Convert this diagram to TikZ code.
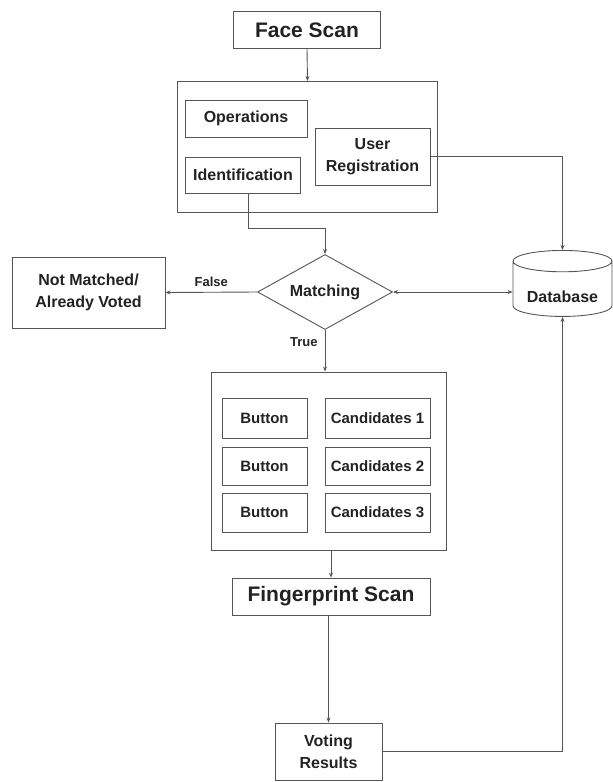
\documentclass[tikz,border=0pt]{standalone}
\usepackage{fontspec}
\setmainfont{Liberation Sans}
\usetikzlibrary{shapes.geometric,arrows.meta}
\definecolor{ln}{HTML}{555555}
\definecolor{tx}{HTML}{222222}
\tikzset{
  box/.style={draw=ln, line width=0.9pt, rectangle, inner sep=0pt, align=center, text=tx, font=\bfseries\fontsize{16}{22}\selectfont},
  frame/.style={draw=ln, line width=0.9pt, rectangle, inner sep=0pt},
  small/.style={box, font=\bfseries\fontsize{15}{20}\selectfont},
  big/.style={box, font=\bfseries\fontsize{21}{24}\selectfont},
  arr/.style={draw=ln, line width=0.9pt, -{Stealth[length=5pt,width=4pt]}},
  lbl/.style={text=tx, font=\bfseries\fontsize{13}{15}\selectfont, inner sep=1pt}
}
\begin{document}
\begin{tikzpicture}[x=1pt,y=-1pt]
\useasboundingbox (0,0) rectangle (613,782);
% top part
\node[big, minimum width=147pt, minimum height=37pt] (face) at (307,30) {Face Scan};
\node[frame, minimum width=260pt, minimum height=131pt] (c1) at (307.5,147) {};
\node[box, minimum width=122pt, minimum height=37pt] (ops) at (246,118.5) {Operations};
\node[box, minimum width=115pt, minimum height=36pt] (ident) at (243,175) {Identification};
\node[box, minimum width=115pt, minimum height=57pt] (ureg) at (372.5,156.5) {User\\Registration};
% middle
\node[box, diamond, minimum width=135pt, minimum height=75pt, aspect=1.8] (match) at (325,292) {Matching};
\node[box, minimum width=153pt, minimum height=71pt] (nm) at (88.5,292.5) {Not Matched/\\Already Voted};
\node[box, cylinder, shape border rotate=90, aspect=0.3, minimum width=99pt, minimum height=66pt] (db) at (562.5,289) {\raisebox{-13pt}[0pt][0pt]{Database}};
% candidates frame
\node[frame, minimum width=235pt, minimum height=178pt] (c2) at (329,461) {};
\node[small, minimum width=85pt, minimum height=40pt] (b1) at (264.5,418) {Button};
\node[small, minimum width=85pt, minimum height=38pt] (b2) at (264.5,466) {Button};
\node[small, minimum width=85pt, minimum height=39pt] (b3) at (264.5,512.5) {Button};
\node[small, minimum width=105pt, minimum height=40pt] (k1) at (377.5,418) {Candidates 1};
\node[small, minimum width=105pt, minimum height=38pt] (k2) at (377.5,466) {Candidates 2};
\node[small, minimum width=105pt, minimum height=39pt] (k3) at (377.5,512.5) {Candidates 3};
% bottom
\node[big, minimum width=198pt, minimum height=37pt] (fp) at (331,596.5) {Fingerprint Scan};
\node[box, minimum width=107pt, minimum height=57pt] (vr) at (328.5,751.5) {Voting\\Results};
% connectors
\draw[arr] (face.south) -- (c1.north);
\draw[arr] ([xshift=5pt]ident.south) |- (325,228) -- (match.north);
\draw[arr] (ureg.east) -| (db.north);
\draw[draw=ln, line width=0.9pt, {Stealth[length=5pt,width=4pt]}-{Stealth[length=5pt,width=4pt]}] (match.east) -- (match.east -| db.west);
\draw[arr] (match.west) -- (nm.east) node[lbl, pos=0.5, above=4pt] {False};
\draw[arr] (match.south) -- (match.south |- c2.north) node[lbl, pos=0.3, left=6pt] {True};
\draw[arr] (c2.south -| fp.north) -- (fp.north);
\draw[arr] (fp.south -| vr.north) -- (vr.north);
\draw[arr] (vr.east) -| (db.south);
\end{tikzpicture}
\end{document}
